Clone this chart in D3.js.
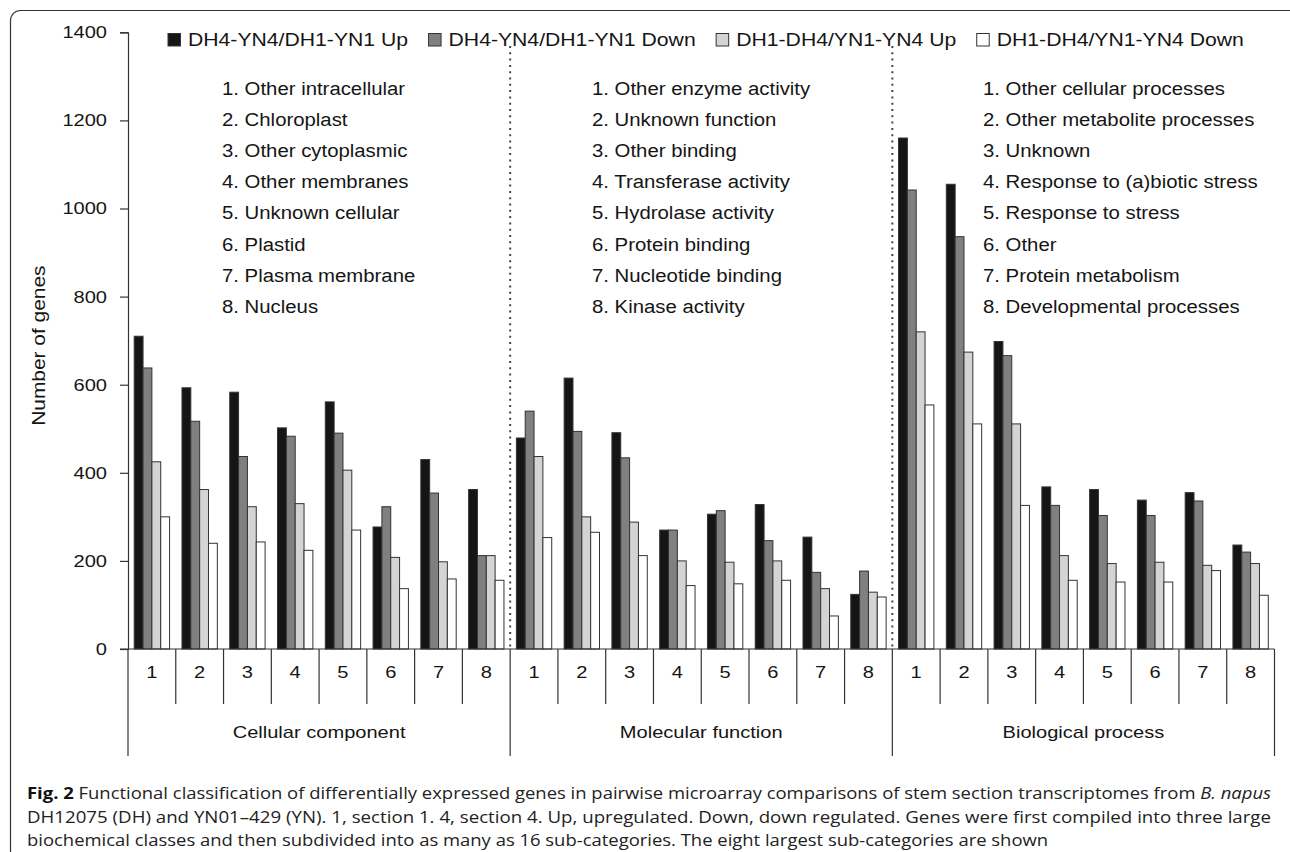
<!DOCTYPE html>
<html>
<head>
<meta charset="utf-8">
<script src="https://cdn.jsdelivr.net/npm/d3@7"></script>
<style>
  body { margin: 0; background: #fff; }
  svg { display: block; }
  text { font-family: "Liberation Sans", Arial, sans-serif; fill: #151515; }
  .caption text { font-family: "Open Sans", sans-serif; fill: #222; }
</style>
</head>
<body>
<svg id="chart" width="1290" height="852"></svg>
<script>
// data
const groups = ["Cellular component", "Molecular function", "Biological process"];
const subCats = ["1", "2", "3", "4", "5", "6", "7", "8"];
const seriesNames = ["DH4-YN4/DH1-YN1 Up", "DH4-YN4/DH1-YN1 Down", "DH1-DH4/YN1-YN4 Up", "DH1-DH4/YN1-YN4 Down"];

// 24 values each: 8 cellular, 8 molecular, 8 biological
const sec41Up   = [710, 593, 583, 502, 561, 277, 430, 362,  479, 615, 491, 270, 306, 328, 254, 124,  1160, 1055, 698, 368, 362, 338, 355, 236];
const sec41Down = [638, 517, 437, 483, 490, 323, 354, 212,  540, 494, 434, 270, 314, 246, 174, 177,  1042, 936, 666, 326, 303, 303, 336, 220];
const dhynUp    = [425, 362, 323, 330, 406, 208, 198, 212,  437, 300, 288, 200, 197, 200, 137, 129,  720, 674, 511, 212, 194, 197, 190, 194];
const dhynDown  = [300, 240, 243, 224, 270, 137, 159, 156,  253, 265, 212, 144, 148, 156, 75, 118,  554, 511, 326, 156, 152, 152, 178, 122];

const cellularNames = ["Other intracellular", "Chloroplast", "Other cytoplasmic", "Other membranes", "Unknown cellular", "Plastid", "Plasma membrane", "Nucleus"];
const molecularNames = ["Other enzyme activity", "Unknown function", "Other binding", "Transferase activity", "Hydrolase activity", "Protein binding", "Nucleotide binding", "Kinase activity"];
const biologicalNames = ["Other cellular processes", "Other metabolite processes", "Unknown", "Response to (a)biotic stress", "Response to stress", "Other", "Protein metabolism", "Developmental processes"];

const yTicks = [0, 200, 400, 600, 800, 1000, 1200, 1400];
const colors = ["#151515", "#808080", "#d4d4d4", "#ffffff"];

const caption = [
  ["Fig. 2", " Functional classification of differentially expressed genes in pairwise microarray comparisons of stem section transcriptomes from ", "B. napus"],
  ["DH12075 (DH) and YN01\u2013429 (YN). 1, section 1. 4, section 4. Up, upregulated. Down, down regulated. Genes were first compiled into three large"],
  ["biochemical classes and then subdivided into as many as 16 sub-categories. The eight largest sub-categories are shown"]
];

// the figure text is a bit wider than plain Arial, stretch it
function widen(sel, k) {
  sel.each(function() {
    const w = this.getComputedTextLength();
    this.setAttribute("textLength", w * k);
    this.setAttribute("lengthAdjust", "spacingAndGlyphs");
  });
}

const svg = d3.select("#chart");

// rounded frame of the figure panel
svg.append("rect")
  .attr("x", 10.5).attr("y", 10.5)
  .attr("width", 1290).attr("height", 850)
  .attr("rx", 10)
  .attr("fill", "none")
  .attr("stroke", "#333")
  .attr("stroke-width", 1.2);

const plotLeft = 128, plotRight = 1274.5, plotTop = 32.3, plotBase = 649;

const rows = sec41Up.map((v, i) => ({
  i, values: [sec41Up[i], sec41Down[i], dhynUp[i], dhynDown[i]]
}));

const x0 = d3.scaleBand()
  .domain(d3.range(rows.length))
  .range([plotLeft, plotRight]);

const x1 = d3.scaleBand()
  .domain(d3.range(seriesNames.length))
  .range([x0.bandwidth() * 0.13, x0.bandwidth() * 0.87]);

const y = d3.scaleLinear()
  .domain([0, 1400])
  .range([plotBase, plotTop]);

// y axis
const yAxis = svg.append("g")
  .attr("transform", `translate(${plotLeft},0)`)
  .call(d3.axisLeft(y).tickValues(yTicks).tickFormat(d3.format("d")).tickSize(8).tickPadding(13));
yAxis.select(".domain").attr("stroke", "#333").attr("stroke-width", 1.2);
yAxis.selectAll(".tick line").attr("stroke", "#333").attr("stroke-width", 1.2);
yAxis.selectAll(".tick text")
  .attr("font-size", 17)
  .call(widen, 1.18);

svg.append("text")
  .attr("transform", `translate(45,${(plotBase + plotTop) / 2 + 5}) rotate(-90)`)
  .attr("text-anchor", "middle")
  .attr("font-size", 19)
  .text("Number of genes")
  .call(widen, 1.1);

// dotted separators between the three classes
svg.selectAll(".sep")
  .data([8, 16])
  .enter().append("line")
    .attr("x1", d => x0(d)).attr("x2", d => x0(d))
    .attr("y1", 46).attr("y2", plotBase)
    .attr("stroke", "#444")
    .attr("stroke-width", 2)
    .attr("stroke-dasharray", "2,4.3");

// bars
const cat = svg.selectAll(".cat")
  .data(rows)
  .enter().append("g")
    .attr("class", "cat")
    .attr("transform", d => `translate(${x0(d.i)},0)`);

cat.selectAll("rect")
  .data(d => d.values)
  .enter().append("rect")
    .attr("x", (d, j) => x1(j))
    .attr("y", d => y(d))
    .attr("width", x1.bandwidth())
    .attr("height", d => y(0) - y(d))
    .attr("fill", (d, j) => colors[j])
    .attr("stroke", "#333")
    .attr("stroke-width", 1);

// category table under the axis
svg.append("line")
  .attr("x1", plotLeft - 8).attr("x2", plotRight)
  .attr("y1", plotBase).attr("y2", plotBase)
  .attr("stroke", "#333").attr("stroke-width", 1.2);

svg.selectAll(".div")
  .data(d3.range(rows.length + 1))
  .enter().append("line")
    .attr("x1", d => d < rows.length ? x0(d) : plotRight)
    .attr("x2", d => d < rows.length ? x0(d) : plotRight)
    .attr("y1", plotBase)
    .attr("y2", d => d % 8 === 0 ? 756 : 704)
    .attr("stroke", "#333").attr("stroke-width", 1.2);

svg.selectAll(".sub")
  .data(rows)
  .enter().append("text")
    .attr("x", d => x0(d.i) + x0.bandwidth() / 2)
    .attr("y", 678)
    .attr("text-anchor", "middle")
    .attr("font-size", 17)
    .text(d => subCats[d.i % 8])
    .call(widen, 1.18);

svg.selectAll(".grp")
  .data(groups)
  .enter().append("text")
    .attr("x", (d, g) => (x0(g * 8) + (g < 2 ? x0(g * 8 + 8) : plotRight)) / 2)
    .attr("y", 738)
    .attr("text-anchor", "middle")
    .attr("font-size", 17)
    .text(d => d)
    .call(widen, 1.18);

// numbered sub-category lists
const lists = [cellularNames, molecularNames, biologicalNames];
const listX = [222, 592, 983];
lists.forEach((names, g) => {
  svg.selectAll(".list" + g)
    .data(names)
    .enter().append("text")
      .attr("x", listX[g])
      .attr("y", (d, k) => 95 + k * 31.1)
      .attr("font-size", 18)
      .text((d, k) => `${k + 1}. ${d}`)
      .call(widen, 1.13);
});

// legend
let lx = 168;
seriesNames.forEach((name, j) => {
  svg.append("rect")
    .attr("x", lx).attr("y", 33.5)
    .attr("width", 12.5).attr("height", 12.5)
    .attr("fill", colors[j])
    .attr("stroke", "#333").attr("stroke-width", 1);
  const t = svg.append("text")
    .attr("x", lx + 20).attr("y", 46)
    .attr("font-size", 17.5)
    .text(name)
    .call(widen, 1.21);
  lx += 20 + +t.attr("textLength") + 20.5;
});

// caption
const cap = svg.append("g").attr("class", "caption");
let ratio = 1;
caption.forEach((parts, r) => {
  const t = cap.append("text")
    .attr("x", 27)
    .attr("y", 799 + r * 23.5)
    .attr("font-size", 16.5);
  parts.forEach((p, k) => {
    const s = t.append("tspan").text(p);
    if (r === 0 && k === 0) s.attr("font-weight", "bold").attr("fill", "#111");
    if (r === 0 && k === 2) s.attr("font-style", "italic");
  });
  const w = t.node().getComputedTextLength();
  if (r === 0) ratio = 1244 / w;
  const target = r < 2 ? 1244 : w * ratio;
  t.attr("textLength", target).attr("lengthAdjust", "spacingAndGlyphs");
});
</script>
</body>
</html>
